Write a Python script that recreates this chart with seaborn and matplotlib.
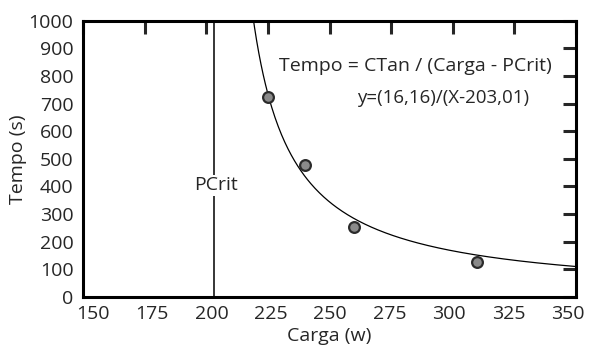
import matplotlib
matplotlib.use('Agg')
import matplotlib.pyplot as plt
import matplotlib.transforms as mtransforms
import seaborn as sns
import numpy as np
import pandas as pd

# pontos medidos
carga = [225, 240, 260, 310]
tempo = [725, 478, 252, 125]

# parametros do modelo (CTan em J, PCrit em W)
ctan = 16160
pcrit = 203.01

x_ticks = [150, 175, 200, 225, 250, 275, 300, 325, 350]
y_ticks = [0, 100, 200, 300, 400, 500, 600, 700, 800, 900, 1000]

sns.set_style('white')
plt.rcParams['font.family'] = ['Open Sans', 'DejaVu Sans']

fig, ax = plt.subplots(figsize=(5.89, 3.53), dpi=100)
fig.subplots_adjust(left=0.141, right=0.978, top=0.941, bottom=0.159)

# curva do modelo
xs = np.linspace(pcrit + ctan / 1000 - 0.5, 350, 300)
curva = pd.DataFrame({'carga': xs, 'tempo': ctan / (xs - pcrit)})
sns.lineplot(data=curva, x='carga', y='tempo', color='black', linewidth=0.9, ax=ax)

# linha PCrit
ax.plot([pcrit, pcrit], [0, 1000], color='black', linewidth=1.1)
ax.text(pcrit + 1, 404, 'PCrit', ha='center', va='center', fontsize=14,
        bbox=dict(facecolor='white', edgecolor='none', pad=1))

df = pd.DataFrame({'carga': carga, 'tempo': tempo})
sns.scatterplot(data=df, x='carga', y='tempo', s=60, color='#8a8a8a',
                edgecolor='#2b2b2b', linewidth=1.6, zorder=5, ax=ax)

ax.text(285, 835, 'Tempo = CTan / (Carga - PCrit)', ha='center', va='center', fontsize=14)
ax.text(296, 722, 'y=(16,16)/(X-203,01)', ha='center', va='center', fontsize=13.5)

ax.set_xlim(150, 350)
ax.set_ylim(0, 1000)
ax.set_xticks(x_ticks)
ax.set_yticks(y_ticks)
ax.tick_params(direction='in', length=9.5, width=2.2, labelsize=14,
               top=True, right=True)
ax.tick_params(axis='y', pad=7)
ax.tick_params(axis='x', pad=6)
for sp in ax.spines.values():
    sp.set_linewidth(2.2)
    sp.set_color('black')
ax.set_xlabel('Carga (w)', fontsize=14, labelpad=3)
ax.set_ylabel('Tempo (s)', fontsize=14, labelpad=1)

# rotulos do eixo x ligeiramente puxados para o centro, como no original
n = len(x_ticks)
for i, lab in enumerate(ax.get_xticklabels()):
    dx = (7 - 13 * i / (n - 1)) / 72
    lab.set_transform(lab.get_transform() +
                      mtransforms.ScaledTranslation(dx, 0, fig.dpi_scale_trans))

fig.savefig('out.png', dpi=100)
